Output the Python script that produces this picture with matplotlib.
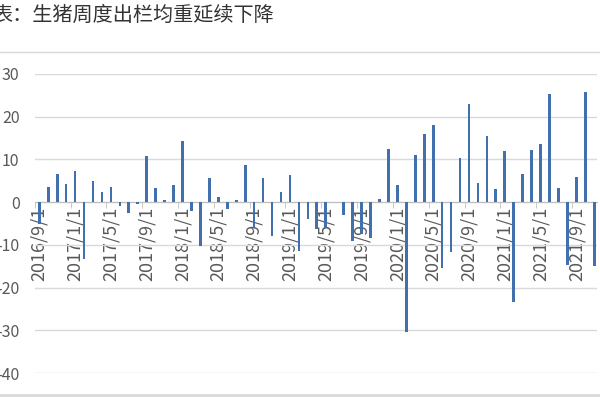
import numpy as np
import pandas as pd
import matplotlib
matplotlib.use('Agg')
import matplotlib.pyplot as plt
from matplotlib.lines import Line2D

plt.rcParams['font.family'] = ['Noto Sans CJK SC', 'DejaVu Sans']
plt.rcParams['axes.unicode_minus'] = False

# monthly categories, 2016/9 .. 2021/11
months = pd.date_range('2016-09-01', '2021-11-01', freq='MS')
cat_labels = [f"{d.year}/{d.month}/1" for d in months]

# values
values = [
    -5.0, 3.6, 6.7, 4.3,                                              # 2016
    7.4, -13.2, 5.0, 2.4, 3.6, -1.0, -2.5, -0.4, 10.9, 3.2, 0.4, 4.0,  # 2017
    14.2, -2.0, -10.2, 5.7, 1.2, -1.7, 0.4, 8.7, -6.0, 5.7, -8.0, 2.4, # 2018
    6.4, -11.5, -4.0, -6.4, -6.0, 0.0, -3.0, -9.0, -7.5, -8.5, 0.8, 12.4,  # 2019
    3.9, -30.3, 11.0, 16.0, 18.1, -15.5, -11.7, 10.4, 23.0, 4.5, 15.6, 3.0,  # 2020
    11.9, -23.3, 6.6, 12.3, 13.7, 25.4, 3.2, -14.6, 5.9, 25.8, -14.9,  # 2021
]

title = '表：生猪周度出栏均重延续下降'
yticks = [-40, -30, -20, -10, 0, 10, 20, 30]

bar_color = '#4170AC'
grid_color = '#D9D9D9'
text_color = '#595959'

fig = plt.figure(figsize=(6, 4), dpi=100)
ax = fig.add_axes([0.058, 0.0675, 0.937, 0.7475])

x = np.arange(len(values))
ax.bar(x, values, width=0.3, color=bar_color, zorder=3)

ax.set_ylim(-40, 30)
ax.set_xlim(-0.37, len(values) - 0.7)
ax.set_yticks(yticks)
ax.set_yticklabels([str(v) for v in yticks])
ax.yaxis.grid(True, color=grid_color, linewidth=1)
ax.set_axisbelow(True)
ax.tick_params(axis='y', length=0, pad=11, labelsize=11.5, labelcolor=text_color)

for s in ['left', 'right', 'top']:
    ax.spines[s].set_visible(False)
ax.spines['bottom'].set_position(('data', 0))
ax.spines['bottom'].set_color('#BFBFBF')

# category labels every 4 months, sitting under the zero line
step = 4
ax.set_xticks(x[::step])
ax.set_xticklabels(cat_labels[::step], rotation=90, fontsize=13, color=text_color)
ax.tick_params(axis='x', length=0, pad=3)
ax.set_xticks(x[::step] - 0.5, minor=True)
ax.tick_params(axis='x', which='minor', length=4, color='#BFBFBF')

# chart frame lines and title
fig.add_artist(Line2D([0, 1], [0.87, 0.87], color=grid_color, lw=1))
fig.add_artist(Line2D([0, 1], [0.012, 0.012], color=grid_color, lw=2))
fig.text(-0.012, 0.962, title, fontsize=14.5, color='#333333', va='center', ha='left')

fig.savefig('out.png', dpi=100)
